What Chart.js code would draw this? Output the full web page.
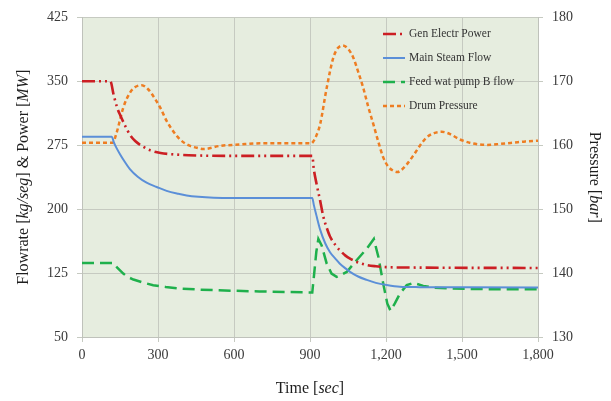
<!DOCTYPE html>
<html><head><meta charset="utf-8">
<script src="https://cdn.jsdelivr.net/npm/chart.js@4.4.0/dist/chart.umd.min.js"></script>
<style>html,body{margin:0;padding:0;background:#fff;}#wrap{width:611px;height:401px;}</style>
</head><body><div id="wrap"><canvas id="c" width="611" height="401"></canvas></div>
<script>
// ---- data ----
const seriesNames = ['Gen Electr Power', 'Main Steam Flow', 'Feed wat pump B flow', 'Drum Pressure'];
const xTickValues = [0, 300, 600, 900, 1200, 1500, 1800];
const leftTickValues = [50, 125, 200, 275, 350, 425];
const rightTickValues = [130, 140, 150, 160, 170, 180];
// axis titles: [text, italic?] pieces
const xTitle = [['Time [', false], ['sec', true], [']', false]];
const yTitle = [['Flowrate [', false], ['kg/seg', true], ['] & Power [', false], ['MW', true], [']', false]];
const y1Title = [['Pressure [', false], ['bar', true], [']', false]];

const powerT = [0, 112, 125, 140, 153, 170, 190, 210, 240, 270, 310, 360, 420, 500, 600, 909, 915, 926, 940, 952, 965, 979, 1000, 1018, 1040, 1058, 1090, 1124, 1160, 1200, 1300, 1800];
const powerV = [350, 350, 334, 318, 309, 298, 287, 280, 273.5, 269, 266, 264.3, 263.3, 262.7, 262.5, 262.5, 247, 229.5, 210, 192, 179, 168, 158, 151.6, 145.5, 142, 137.5, 134.5, 133, 132, 131.5, 131];

const steamT = [0, 118, 125, 135, 150, 170, 189, 220, 255, 295, 334, 380, 413, 460, 520, 600, 909, 915, 925, 940, 960, 979, 1000, 1018, 1040, 1058, 1090, 1124, 1160, 1203, 1255, 1334, 1500, 1800];
const steamV = [285, 285, 279, 272.5, 264.5, 255, 247, 238, 231, 226, 221.5, 218, 216, 214.5, 213.5, 213.2, 213.2, 205, 193, 176, 160, 149.5, 142, 136, 130.5, 126.5, 121, 117, 113.5, 111, 109, 108.5, 108.3, 108];

const feedT = [0, 124, 140, 163, 180, 203, 240, 281, 330, 387, 450, 518, 600, 700, 800, 909, 915, 925, 933, 946, 966, 985, 1005, 1045, 1084, 1124, 1152, 1170, 1189, 1205, 1218, 1235, 1255, 1282, 1308, 1347, 1387, 1450, 1518, 1650, 1800];
const feedV = [136.8, 136.8, 131, 124.4, 120.5, 117.4, 114, 110.8, 108.7, 106.9, 105.8, 105, 104.2, 103.5, 102.8, 102.2, 120, 150, 165, 157.5, 136, 124.4, 120.5, 126.3, 140, 153.6, 165, 143.8, 112.7, 89.4, 80.8, 89.4, 101, 110.8, 113.5, 110, 108, 107, 106.5, 106, 106];

const drumT = [0, 121, 137, 163, 189, 210, 236, 260, 281, 310, 334, 360, 387, 420, 453, 479, 545, 620, 703, 800, 905, 913, 925, 940, 966, 992, 1010, 1029, 1050, 1071, 1090, 1110, 1130, 1150, 1170, 1189, 1210, 1229, 1245, 1260, 1280, 1308, 1335, 1360, 1390, 1420, 1450, 1492, 1540, 1597, 1650, 1702, 1750, 1800];
const drumV = [160.4, 160.4, 162, 165.9, 168.2, 169.1, 169.4, 168.8, 167.7, 165.8, 163.8, 162.2, 160.9, 160.0, 159.6, 159.4, 159.9, 160.1, 160.3, 160.3, 160.3, 160.6, 161.5, 163.3, 169, 173.7, 175.2, 175.6, 175.1, 173.7, 171.5, 169, 166, 163.3, 160.5, 158.1, 156.6, 156, 155.8, 156.1, 156.9, 158.4, 160, 161.2, 161.9, 162.1, 161.8, 160.9, 160.3, 160.05, 160.2, 160.4, 160.6, 160.7];

// ---- helpers ----
const pts = (ts, vs) => ts.map((t, i) => ({x: t, y: vs[i]}));
const SERIF = "'Liberation Serif', 'DejaVu Serif', serif";

const styles = [
  {color: '#cc1f24', width: 2.6, dash: [13, 4, 2, 4, 2, 4], axis: 'y', mode: 'monotone', tension: 0.4},
  {color: '#5b8fd8', width: 2, dash: [], axis: 'y', mode: 'monotone', tension: 0.4},
  {color: '#1fb04c', width: 2.5, dash: [12, 6], axis: 'y', mode: 'default', tension: 0},
  {color: '#ee7d22', width: 2.5, dash: [4, 3], axis: 'y1', mode: 'monotone', tension: 0.4}
];
const dataPairs = [[powerT, powerV], [steamT, steamV], [feedT, feedV], [drumT, drumV]];

const datasets = seriesNames.map((name, i) => ({
  label: name,
  data: pts(dataPairs[i][0], dataPairs[i][1]),
  yAxisID: styles[i].axis,
  borderColor: styles[i].color,
  backgroundColor: styles[i].color,
  borderWidth: styles[i].width,
  borderDash: styles[i].dash,
  borderCapStyle: 'butt',
  pointRadius: 0,
  fill: false,
  tension: styles[i].tension,
  cubicInterpolationMode: styles[i].mode
}));

const plotBg = {
  id: 'plotBg',
  beforeDraw(chart) {
    const {ctx, chartArea: a} = chart;
    ctx.save();
    ctx.fillStyle = '#e6eddf';
    ctx.fillRect(a.left, a.top, a.right - a.left, a.bottom - a.top);
    ctx.restore();
  }
};

const innerLegend = {
  id: 'innerLegend',
  afterDatasetsDraw(chart) {
    const ctx = chart.ctx;
    const rows = [34, 58, 82, 106];
    ctx.save();
    seriesNames.forEach((name, i) => {
      const s = styles[i];
      ctx.beginPath();
      ctx.strokeStyle = s.color;
      ctx.lineWidth = s.width;
      ctx.setLineDash(s.dash.length ? (i === 0 ? [13, 4, 2, 20] : s.dash) : []);
      ctx.moveTo(383, rows[i]);
      ctx.lineTo(405, rows[i]);
      ctx.stroke();
      ctx.setLineDash([]);
      ctx.fillStyle = '#333333';
      ctx.font = "11.5px " + SERIF;
      ctx.textBaseline = 'middle';
      ctx.textAlign = 'left';
      ctx.fillText(name, 409, rows[i]);
    });
    ctx.restore();
  }
};

// axis titles with italic unit parts
function drawMixed(ctx, pieces, cx, cy, rot) {
  ctx.save();
  ctx.translate(cx, cy);
  ctx.rotate(rot);
  const fonts = pieces.map(p => (p[1] ? 'italic ' : '') + '16px ' + SERIF);
  let total = 0;
  const widths = pieces.map((p, i) => { ctx.font = fonts[i]; const w = ctx.measureText(p[0]).width; total += w; return w; });
  let x = -total / 2;
  ctx.fillStyle = '#1e1e1e';
  ctx.textBaseline = 'middle';
  ctx.textAlign = 'left';
  pieces.forEach((p, i) => { ctx.font = fonts[i]; ctx.fillText(p[0], x, 0); x += widths[i]; });
  ctx.restore();
}
const axisTitles = {
  id: 'axisTitles',
  afterDraw(chart) {
    const {ctx, chartArea: a} = chart;
    const midY = (a.top + a.bottom) / 2;
    drawMixed(ctx, xTitle, (a.left + a.right) / 2, 389, 0);
    drawMixed(ctx, yTitle, 24, midY, -Math.PI / 2);
    drawMixed(ctx, y1Title, 594, midY, Math.PI / 2);
  }
};

const tickFont = {family: SERIF, size: 14};

new Chart(document.getElementById('c'), {
  type: 'line',
  data: {datasets},
  plugins: [plotBg, innerLegend, axisTitles],
  options: {
    responsive: false,
    devicePixelRatio: 1,
    animation: false,
    layout: {padding: {top: 16, left: 0, right: 0, bottom: 0}},
    plugins: {legend: {display: false}, tooltip: {enabled: false}},
    scales: {
      x: {
        type: 'linear', min: 0, max: 1800,
        afterBuildTicks: (s) => { s.ticks = xTickValues.map(v => ({value: v})); },
        afterFit: (s) => { s.height = 64; },
        ticks: {font: tickFont, color: '#3a3a3a', padding: 5, maxRotation: 0},
        grid: {color: '#c6cac1', lineWidth: 1, tickLength: 5},
        border: {color: '#bfc2bb'}
      },
      y: {
        type: 'linear', position: 'left', min: 50, max: 425,
        afterBuildTicks: (s) => { s.ticks = leftTickValues.map(v => ({value: v})); },
        afterFit: (s) => { s.width = 82; },
        ticks: {font: tickFont, color: '#3a3a3a', padding: 9},
        grid: {color: '#c6cac1', lineWidth: 1, tickLength: 5},
        border: {color: '#bfc2bb'}
      },
      y1: {
        type: 'linear', position: 'right', min: 130, max: 180,
        afterBuildTicks: (s) => { s.ticks = rightTickValues.map(v => ({value: v})); },
        afterFit: (s) => { s.width = 73; },
        ticks: {font: tickFont, color: '#3a3a3a', padding: 9},
        grid: {drawOnChartArea: false, color: '#c6cac1', lineWidth: 1, tickLength: 5},
        border: {color: '#bfc2bb'}
      }
    }
  }
});
</script>
</body></html>
